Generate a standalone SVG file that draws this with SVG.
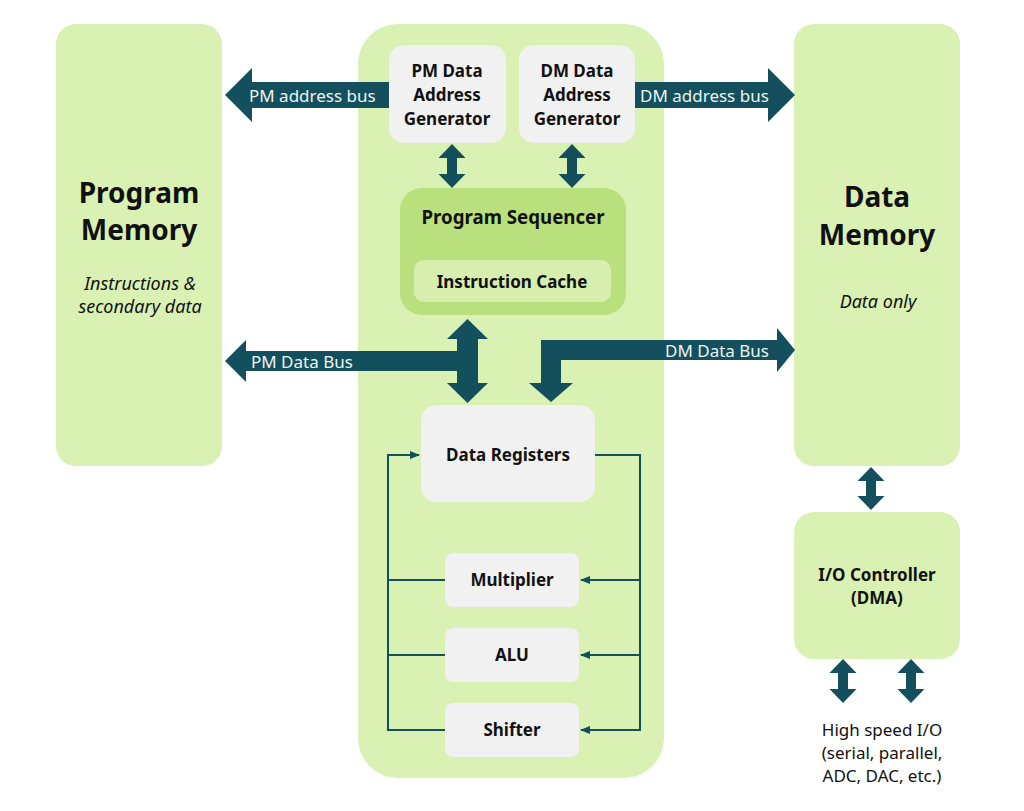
<svg xmlns="http://www.w3.org/2000/svg" width="1024" height="811" viewBox="0 0 1024 811">
<defs>
<style>
.g{fill:#d9f2b3}
.seq{fill:#b9e07c}
.inner{fill:#d6efae}
.box{fill:#f1f1f1}
.bus{fill:#134f5c}
.t{font-family:"Noto Sans","Open Sans","DejaVu Sans",sans-serif;fill:#111;text-anchor:middle}
.b{font-weight:bold;font-size:17px}
.big{font-weight:bold;font-size:28px}
.it{font-style:italic;font-size:18px}
.rg{font-size:17px}
.bl{font-family:"Noto Sans","Open Sans","DejaVu Sans",sans-serif;fill:#eef4f2;font-size:17px}
.ln{fill:none;stroke:#134f5c;stroke-width:2}
</style>
<marker id="ah" markerWidth="10" markerHeight="8" refX="9" refY="4" orient="auto" markerUnits="userSpaceOnUse">
<path d="M0,0 L10,4 L0,8 Z" fill="#134f5c"/>
</marker>
</defs>
<rect width="1024" height="811" fill="#fff"/>

<g id="program-memory">
<rect class="g" x="56" y="24" width="166" height="442" rx="20"/>
<text class="t big" x="139" y="203">Program</text>
<text class="t big" x="139" y="240">Memory</text>
<text class="t it" x="140" y="290">Instructions &amp;</text>
<text class="t it" x="140" y="313">secondary data</text>
</g>

<g id="core">
<rect class="g" x="358" y="24" width="306" height="754" rx="40"/>
</g>

<g id="data-memory">
<rect class="g" x="794" y="24" width="166" height="442" rx="20"/>
<text class="t big" x="877" y="207">Data</text>
<text class="t big" x="877" y="245">Memory</text>
<text class="t it" x="878" y="308">Data only</text>
</g>

<g id="io-controller">
<rect class="g" x="794" y="512" width="166" height="147" rx="20"/>
<text class="t b" x="877" y="581">I/O Controller</text>
<text class="t b" x="877" y="604">(DMA)</text>
</g>

<g id="pm-dag">
<rect class="box" x="389" y="45" width="117" height="98" rx="15"/>
<text class="t b" x="447" y="77">PM Data</text>
<text class="t b" x="447" y="101">Address</text>
<text class="t b" x="447" y="125">Generator</text>
</g>

<g id="dm-dag">
<rect class="box" x="519" y="45" width="116" height="98" rx="15"/>
<text class="t b" x="577" y="77">DM Data</text>
<text class="t b" x="577" y="101">Address</text>
<text class="t b" x="577" y="125">Generator</text>
</g>

<g id="program-sequencer">
<rect class="seq" x="400" y="188" width="226" height="127" rx="22"/>
<text class="t b" x="513" y="224" style="font-size:18.7px">Program Sequencer</text>
</g>

<g id="instruction-cache">
<rect class="inner" x="414" y="260" width="197" height="42" rx="10"/>
<text class="t b" x="512" y="288">Instruction Cache</text>
</g>

<g id="data-registers">
<rect class="box" x="421" y="405" width="174" height="97" rx="15"/>
<text class="t b" x="508" y="461">Data Registers</text>
</g>

<g id="multiplier">
<rect class="box" x="445" y="553" width="134" height="54" rx="8"/>
<text class="t b" x="512" y="586">Multiplier</text>
</g>

<g id="alu">
<rect class="box" x="445" y="628" width="134" height="54" rx="8"/>
<text class="t b" x="512" y="661">ALU</text>
</g>

<g id="shifter">
<rect class="box" x="445" y="703" width="134" height="54" rx="8"/>
<text class="t b" x="512" y="736">Shifter</text>
</g>

<g id="io-label">
<text class="t rg" x="882" y="736">High speed I/O</text>
<text class="t rg" x="882" y="759">(serial, parallel,</text>
<text class="t rg" x="882" y="782">ADC, DAC, etc.)</text>
</g>

<g id="connectors">
<polygon class="bus" points="225,95 252,68 252,82 389,82 389,108 252,108 252,122"/>
<text class="bl" x="249" y="102">PM address bus</text>
<polygon class="bus" points="635,82 768,82 768,68 795,95 768,122 768,108 635,108"/>
<text class="bl" x="640" y="102">DM address bus</text>

<polygon class="bus" points="452,144 465.5,158 457,158 457,174 465.5,174 452,188 438.5,174 447,174 447,158 438.5,158"/>
<polygon class="bus" points="572,144 585.5,158 577,158 577,174 585.5,174 572,188 558.5,174 567,174 567,158 558.5,158"/>

<polygon class="bus" points="467.5,319 488,339 478,339 478,383 488,383 467.5,403 447,383 457,383 457,371 246,371 246,382 225,361 246,340 246,351 457,351 457,339 447,339"/>
<text class="bl" x="251" y="368">PM Data Bus</text>

<polygon class="bus" points="541,340 777,340 777,328 795,350 777,372 777,360 561,360 561,383 573,383 551,402 529,383 541,383"/>
<text class="bl" x="665" y="357">DM Data Bus</text>

<polygon class="bus" points="871,467 884.5,481 876,481 876,496 884.5,496 871,510 857.5,496 866,496 866,481 857.5,481"/>
<polygon class="bus" points="843,659 856.5,673 848,673 848,689 856.5,689 843,703 829.5,689 838,689 838,673 829.5,673"/>
<polygon class="bus" points="911,659 924.5,673 916,673 916,689 924.5,689 911,703 897.5,689 906,689 906,673 897.5,673"/>

<path class="ln" d="M445,580 H388 M445,655 H388 M445,730 H388"/>
<path class="ln" d="M388,731 V455 H419" marker-end="url(#ah)"/>
<path class="ln" d="M595,455 H640 V730 H581" marker-end="url(#ah)"/>
<path class="ln" d="M640,580 H581" marker-end="url(#ah)"/>
<path class="ln" d="M640,655 H581" marker-end="url(#ah)"/>
</g>
</svg>
